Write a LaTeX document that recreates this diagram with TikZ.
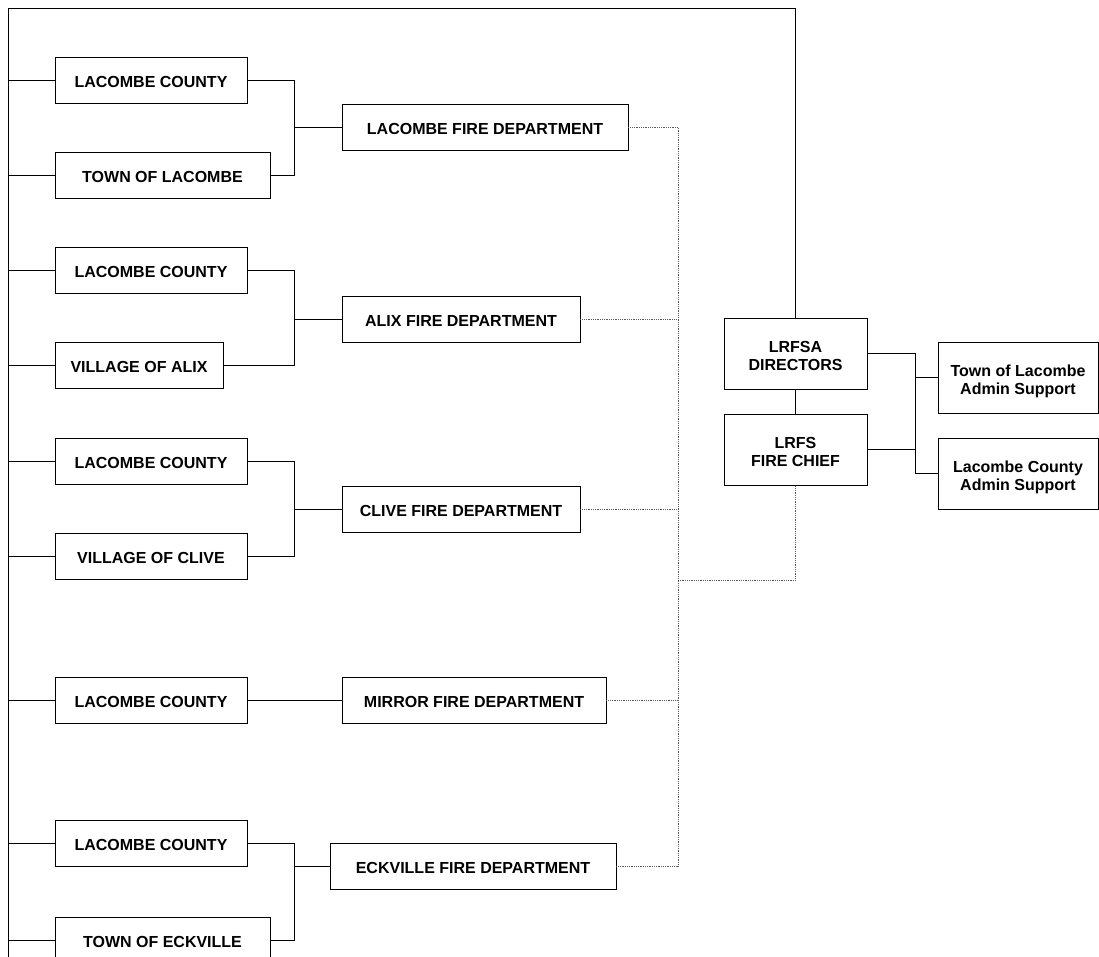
\documentclass[tikz,border=0pt]{standalone}
\usepackage{fontspec}
\setmainfont{Liberation Sans}
\begin{document}
\begin{tikzpicture}[x=1pt,y=-1pt,
  box/.style={draw,line width=0.9pt,inner sep=0pt,minimum height=46pt,
    font=\bfseries\fontsize{16}{18}\selectfont,align=center,
    text height=15.5pt,text depth=0pt},
  tall/.style={box,minimum height=71pt,text height=34.5pt,text depth=0pt},
  conn/.style={line width=0.8pt},
  dot/.style={line width=0.8pt,gray!70!black,densely dotted}]
\useasboundingbox (0,0) rectangle (1099,957);
% boxes
\node[box,minimum width=192pt] (lc1) at (151,80) {LACOMBE COUNTY};
\node[box,minimum width=215pt] (tl) at (162.5,175) {TOWN OF LACOMBE};
\node[box,minimum width=286pt] (lfd) at (485,127) {LACOMBE FIRE DEPARTMENT};
\node[box,minimum width=192pt] (lc2) at (151,270) {LACOMBE COUNTY};
\node[box,minimum width=168pt] (va) at (139,365) {VILLAGE OF ALIX};
\node[box,minimum width=238pt] (afd) at (461,319) {ALIX FIRE DEPARTMENT};
\node[box,minimum width=192pt] (lc3) at (151,461) {LACOMBE COUNTY};
\node[box,minimum width=192pt] (vc) at (151,556) {VILLAGE OF CLIVE};
\node[box,minimum width=238pt] (cfd) at (461,509) {CLIVE FIRE DEPARTMENT};
\node[box,minimum width=192pt] (lc4) at (151,700) {LACOMBE COUNTY};
\node[box,minimum width=264pt] (mfd) at (474,700) {MIRROR FIRE DEPARTMENT};
\node[box,minimum width=192pt] (lc5) at (151,843) {LACOMBE COUNTY};
\node[box,minimum width=215pt] (te) at (162.5,940) {TOWN OF ECKVILLE};
\node[box,minimum width=286pt] (efd) at (473,866) {ECKVILLE FIRE DEPARTMENT};
\node[tall,minimum width=143pt] (dir) at (795.5,353.5) {LRFSA\\DIRECTORS};
\node[tall,minimum width=143pt] (chief) at (795.5,449.5) {LRFS\\FIRE CHIEF};
\node[tall,minimum width=160pt] (tla) at (1018,377.5) {Town of Lacombe\\Admin Support};
\node[tall,minimum width=160pt] (lca) at (1018,473.5) {Lacombe County\\Admin Support};
% coordinates
\coordinate (tl0) at (8,8);
\coordinate (bl0) at (8,957);
\coordinate (tr0) at (795.5,8);
% outer frame
\draw[conn] (bl0) -- (tl0) -- (tr0) -- (dir.north);
% left stubs
\foreach \n in {lc1,tl,lc2,va,lc3,vc,lc4,lc5,te}
  \draw[conn] (\n.west) -- (\n.west -| tl0);
% brackets
\draw[conn] (lc1.east) -- (294,80) -- (294,175) -- (tl.east);
\draw[conn] (294,127) -- (lfd.west);
\draw[conn] (lc2.east) -- (294,270) -- (294,365) -- (va.east);
\draw[conn] (294,319) -- (afd.west);
\draw[conn] (lc3.east) -- (294,461) -- (294,556) -- (vc.east);
\draw[conn] (294,509) -- (cfd.west);
\draw[conn] (lc4.east) -- (mfd.west);
\draw[conn] (lc5.east) -- (294,843) -- (294,940) -- (te.east);
\draw[conn] (294,866) -- (efd.west);
% dotted links
\draw[dot] (lfd.east) -- (678,127) -- (678,866) -- (efd.east);
\draw[dot] (afd.east) -- (678,319);
\draw[dot] (cfd.east) -- (678,509);
\draw[dot] (mfd.east) -- (678,700);
\draw[dot] (678,580) -- (795.5,580) -- (chief.south);
% right side
\draw[conn] (dir.south) -- (chief.north);
\draw[conn] (dir.east) -- (915,353.5) -- (915,473.5) -- (lca.west);
\draw[conn] (chief.east) -- (915,449.5);
\draw[conn] (915,377.5) -- (tla.west);
\end{tikzpicture}
\end{document}
